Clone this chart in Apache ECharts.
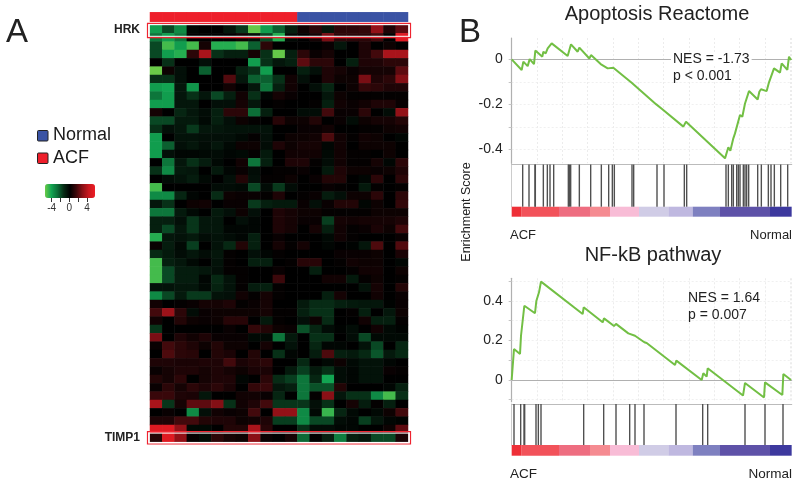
<!DOCTYPE html>
<html><head><meta charset="utf-8">
<script src="https://cdn.jsdelivr.net/npm/echarts@6/dist/echarts.min.js"></script>
<style>html,body{margin:0;padding:0;background:#fff}#c{width:800px;height:486px}</style>
</head><body><div id="c"></div>
<script>
const heatRows = [
[-4,-2,-3.5,-.2,0,0,-.7,-1.7,-5.5,-4,-2.5,-1,.3,1,-.7,1,1,1.2,3,.7,2],
[-3,-4,-3,0,0,0,0,.3,-.5,-2,-4.5,-.3,0,.5,2.5,1,1,1,1.5,0,5],
[-2,-5,-4,-5,.5,-4.5,-4.5,-5,-2.5,1,0,0,0,0,.2,-.7,0,.7,0,.3,0],
[-2,-4,-4.5,1,3.5,-1.5,-1,-1,.5,-1.5,-5.5,-1,1,.2,.5,0,0,.7,1.5,3.5,3.5],
[0,-1.5,0,0,-.5,0,0,0,-4,-1.5,-.7,-1,2,1,1,0,-1,.7,.7,1,1],
[-6,.3,-.5,0,-2.5,0,0,-1,-1.5,-4,0,0,-1,-.5,.7,.5,.2,.5,.5,.5,2],
[-1.5,-1.5,-.5,0,0,0,1.8,-.7,-2.5,-2.5,-1.5,.4,-.5,0,.7,.3,.3,2.5,.7,1,2.7],
[-4,-4.2,-.7,-3.8,0,0,.4,0,-.7,-3,-1,.4,0,-.5,-1.2,0,.3,1.2,1,.7,.7],
[-3,-4,-.7,-1.5,-.7,-2,-1,.4,-1.5,-.2,.5,.2,0,0,-.7,.3,.1,.1,.1,.1,.1],
[-4,-4,-.7,-.7,0,-.5,-.5,.5,-.7,0,.1,0,0,.1,-1,.4,.2,.4,.7,.7,.2],
[.5,0,-1.2,-.7,-.4,-1,1,1,-2.8,-1,0,0,-.4,-.4,1.5,.2,.2,1,0,-.4,3],
[-2,-2,-.8,-.8,-.3,-1,-.5,.3,.1,0,.9,.3,.3,.8,0,.2,-.4,.3,.5,.5,.8],
[-1.5,-.5,-.7,-1.7,-.7,-.7,-.6,-.6,-.6,-.6,0,0,.2,.2,.4,0,0,.1,.1,.3,.4],
[-4,0,-.6,-.6,-.5,-.5,-.5,-.3,.1,-.5,0,.3,.3,.4,1.7,.4,.1,.4,.3,0,-.2],
[-4,-2.5,-.5,-.7,-.4,-.7,-.3,.3,.3,-.4,.7,.3,.5,.5,-.2,.4,0,.3,.3,.3,0],
[-4,-.5,-.2,-.2,-.3,-.4,-.2,-.3,.1,-.8,0,.4,.4,.4,-.3,.4,.1,.1,0,.3,0],
[0,-3,-.7,-1.5,-.9,-.3,0,.4,-3,-1,0,.7,.7,.1,-.4,.4,.1,.1,.5,-.2,1],
[-1.5,-3.5,-.8,-.7,0,-.8,-.2,.2,-.4,0,.1,.1,.2,0,-.8,.7,.3,.3,.2,.3,.7],
[0,-.4,-.6,-.9,-.3,0,-.5,.8,-.5,.1,.1,.3,0,.2,.8,.8,0,-.2,1,0,1],
[-5,0,0,0,0,-.4,-.4,-.3,-2,-.4,-1.7,-.4,0,0,.2,.1,0,-.8,.1,0,.1],
[-3.5,-3.5,-1.2,-.2,0,-1.4,.3,.2,.2,.1,.7,0,.1,.2,-.9,-.5,.3,.3,1,0,1],
[-.7,-1.5,0,.3,.4,0,.2,.2,-1.7,-1,-.8,-.8,.2,-.5,.2,.8,.8,-.2,.3,0,1.2],
[-3,-3,-.8,-.3,0,-.8,-.5,.3,-.5,0,.7,.5,.3,.3,.1,.1,.1,.1,.3,.3,.3],
[-1,-1,-.5,-1.6,-.7,-.7,0,-.5,-.2,0,.7,.5,.2,.2,-1.8,.5,.4,.5,.5,.5,.7],
[-1,-2,-.7,-1.6,-.7,-.7,-.2,-.2,-.2,0,.7,.5,0,.5,-1,.4,.1,.2,.6,.3,1.5],
[-4.5,-.7,-.6,-.8,-.4,-.6,-.4,-.2,-1,0,.2,0,0,0,-.3,.4,.1,0,0,0,.2],
[.2,-.9,-.3,-1.8,0,-.6,-1.3,.8,-1,0,.5,.1,.5,0,-.2,0,-.1,-.7,1.7,0,1.8],
[-1.3,-.8,-.4,-.7,-.4,-.7,.1,0,-.5,-.2,.1,0,0,0,0,.2,.2,.2,.3,0,.6],
[-5,-1,-.7,-.3,0,-.6,.1,0,-1,-1,0,.1,.9,.9,0,.1,.4,.3,.3,0,-.2],
[-5,-2,-.9,-.9,-.7,-.5,.1,.1,0,0,.2,0,0,-1,0,0,.1,.4,.4,0,.3],
[-5,-2,-.9,-.9,-.2,-1.3,-.6,.1,0,0,1.4,0,0,0,.4,.4,-.8,.1,.3,0,.1],
[-.6,-.6,-.7,-.7,-.3,-1.1,-.6,.1,-.9,-1,.1,0,0,0,0,0,0,-.6,.5,0,.8],
[-3.5,-2,-.8,-1.7,-1.7,-.6,-.5,.4,.1,.5,.1,0,0,0,-1,.5,0,0,.4,0,.2],
[.4,0,.1,.2,.5,.5,.7,.1,.2,.5,0,0,-.8,-1.4,-1.4,-1,-.8,-.7,-.7,-.1,.2],
[1.5,3.2,1,-.4,.2,.3,.3,.3,.3,.5,.1,.1,-1,-1.5,-1.5,0,.1,-1,0,-.7,.3],
[.4,0,.8,.3,.2,.3,.9,.9,0,-.8,.1,0,-.5,.3,-1.4,0,0,.4,-1,-1,.1],
[-1.6,0,0,0,0,0,.2,0,1.2,.8,.3,.2,-2.2,-1.2,-.4,-.1,-.4,0,.4,-.3,-.1],
[2.5,0,.7,.4,.7,.2,.2,.2,-.3,-.3,-3,-.8,0,-1.5,-1.5,0,-.4,-2,-.3,-.3,-.3],
[.2,1.5,1,.7,.3,.8,.3,.3,0,.5,0,-.6,0,-1.2,-.2,-.2,0,-.6,-2,0,-1.2],
[0,1.7,1,.9,0,.8,.6,0,.8,0,-1.5,-.2,0,-.9,1.7,-1,-.8,-1.3,-2.3,-.8,-1.3],
[.7,.7,.6,.6,.7,.7,1.5,.6,.8,1,0,0,-1.3,0,-.3,.3,-.3,-.6,-.6,-.2,0],
[.2,.5,.7,.7,.5,.7,.5,.3,.6,.6,0,-.8,-1.8,-.8,-1.5,-.4,-.2,-.6,-.6,.2,.1],
[.8,.5,1,0,.5,.7,.7,-.2,0,1,-1.4,-1.8,-3,-1.2,-4.2,-.4,-.2,-.6,-.6,0,0],
[.2,1,.5,1,.7,1,.6,0,1.2,1.3,-.7,-1,-3,-2.2,-2.2,.8,0,0,0,-.2,-1],
[1.3,1.3,.7,.6,-.7,0,0,.4,.4,.2,-1.2,0,-3,.1,2.8,-.7,-1.5,-1.5,-3.5,-5,-1.5],
[3.5,-1.6,.5,2,2,2.7,-1.5,.4,.7,1.5,-1.6,-1.6,-1.6,-.5,-1.5,0,.5,-.9,.1,-1,0],
[0,.2,0,-3.5,-.5,.4,.2,.3,1.5,0,3,3,-3.5,-.3,-4.8,-1.2,-.3,0,-.3,.3,1.5],
[.7,.7,1.5,1.5,.8,.7,.7,.3,.4,.7,-1.8,-1.8,-3.5,-2,-2,-.4,-.2,-1.8,-.7,-.2,-.1],
[5,5,3,-.3,-.3,0,.8,.8,3.5,.9,0,0,-1.5,-.4,-.4,-.2,-.2,0,0,.3,2],
[.8,5,3,.1,-.4,1,.5,.3,2.8,.2,0,.5,-2.7,0,-1,-3.2,-1,-.7,-2,-2,.6]
];
const sampleGroups = ['ACF','ACF','ACF','ACF','ACF','ACF','ACF','ACF','ACF','ACF','ACF','ACF','Normal','Normal','Normal','Normal','Normal','Normal','Normal','Normal','Normal'];
const groupColors = {ACF:'#ee1f2b', Normal:'#3a53a4'};

const apoptosisRank = [0,30,35,48,54,67,71,92,95,102,108,113,120,126,168,178,198,203,233,238,267,270,288,305,310,360,365,433,436,452,458,515,523,640,650,656,665,670,676,685,692,700,712,738,743,748,765,772,778,787,805,810,827,832,838];
const apoptosisES = [0,-.047,-.010,-.030,.001,-.021,.039,.012,.034,.027,.049,.041,.071,.074,.015,.067,.034,.052,.004,.019,-.021,-.015,-.040,-.037,-.043,-.104,-.104,-.199,-.196,-.222,-.218,-.299,-.277,-.440,-.391,-.406,-.351,-.329,-.336,-.247,-.255,-.196,-.141,-.178,-.144,-.133,-.141,-.102,-.107,-.040,-.059,-.018,-.047,.012,-.003];
const apoptosisHits = [33,52,70,71,95,107,115,126,170,173,177,203,237,269,291,302,308,361,366,436,457,518,525,643,650,660,665,675,680,685,695,700,705,711,738,749,770,778,788,807,828];

const nfkbRank = [0,2,7,25,28,33,38,70,74,79,82,85,88,213,216,273,277,307,313,350,370,398,405,490,494,570,575,585,588,694,700,757,760,812,815,838];
const nfkbES = [0,0,.157,.132,.224,.224,.376,.338,.400,.397,.444,.444,.498,.334,.368,.292,.312,.273,.284,.236,.224,.191,.187,.076,.098,0,.034,.017,.059,-.079,-.015,-.089,-.012,-.076,.030,0];
const nfkbHits = [7,27,37,39,73,80,88,216,276,313,354,370,397,493,573,588,700,760,814];

const bandEdges = [0,30,142,235,295,382,470,543,625,775,840];
const bandColors = ['#ee2f37','#f2525a','#ee6d80','#f58b91','#f8bcd6','#d0cce6','#bfb8e0','#7e80c0','#5e52a8','#3d399e'];

const heatStops = ['#6acb48','#12a552','#0c6e37','#072b15','#000000','#3c080b','#8a1016','#c8181f','#ee1c24'];
const colorbarTicks = [-4,-2,0,2,4];
const colorbarLabels = [-4,0,4];

const FONT = '"Liberation Sans", Arial, sans-serif';
const heatData = [];
heatRows.forEach((r,i)=>r.forEach((v,j)=>heatData.push([j,i,v])));
const cols = sampleGroups.map((_,i)=>i);
const rows = heatRows.map((_,i)=>i);
const zip = (a,b)=>a.map((x,i)=>[x,b[i]]);

const PX = 511.67, PW = 280, XMAX = 840;
const plotX = (gi)=>({gridIndex:gi,type:'value',min:0,max:XMAX,interval:76,
  axisLabel:{show:false},axisTick:{show:false},
  axisLine:{show:true,onZero:true,lineStyle:{color:'#b0b0b0',width:1.2}},
  splitLine:{show:true,lineStyle:{color:'#ececec',type:[2,2],width:1}}});
const plotY = (gi,min,max,ticks,labels)=>({gridIndex:gi,type:'value',min,max,
  axisLine:{show:true,lineStyle:{color:'#b0b0b0',width:1.2}},
  axisTick:{show:true,length:3,customValues:ticks,lineStyle:{color:'#c4c4c4'}},
  axisLabel:{customValues:labels,fontFamily:FONT,fontSize:14,color:'#222',margin:9},
  splitLine:{show:true,lineStyle:{color:'#f0f0f0',type:[2,2],width:1}}});
const hitX = (gi)=>({gridIndex:gi,type:'value',min:0,max:XMAX,position:'top',
  axisLabel:{show:false},axisTick:{show:false},splitLine:{show:false},
  axisLine:{show:true,onZero:false,lineStyle:{color:'#bbbbbb',width:1.2}}});
const hitY = (gi)=>({gridIndex:gi,type:'value',min:0,max:1,
  axisLabel:{show:false},axisTick:{show:false},splitLine:{show:false},
  axisLine:{show:true,lineStyle:{color:'#cccccc'}}});
const bandX = (gi)=>({gridIndex:gi,type:'value',min:0,max:XMAX,show:false});
const bandY = (gi)=>({gridIndex:gi,type:'value',min:0,max:1,show:false});
const lineS = (xi,d)=>({type:'line',xAxisIndex:xi,yAxisIndex:xi,data:d,showSymbol:false,symbol:'none',
  lineStyle:{color:'#72bf44',width:2},silent:true,z:5});
const hitS = (xi,h)=>({type:'bar',xAxisIndex:xi,yAxisIndex:xi,data:h.map(x=>[x,1]),barWidth:1.4,
  itemStyle:{color:'#505050'},silent:true});
const bandS = (xi)=>({type:'custom',xAxisIndex:xi,yAxisIndex:xi,silent:true,
  data:bandColors.map((_,i)=>[bandEdges[i],bandEdges[i+1],i]),
  encode:{x:[0,1]},
  renderItem:(p,api)=>{
    const a=api.coord([api.value(0),1]), b=api.coord([api.value(1),0]);
    return {type:'rect',shape:{x:a[0],y:a[1],width:b[0]-a[0],height:b[1]-a[1]},
      style:{fill:bandColors[api.value(2)]}};
  }});

const txt=(x,y,text,o={})=>({type:'text',x,y,silent:true,z:20,style:Object.assign({text,
  font:`${o.weight||'normal'} ${o.size||14}px ${FONT}`,fill:o.fill||'#222',
  align:o.align||'left',verticalAlign:'middle'},o.bg?{backgroundColor:'#fff',padding:[0,2]}:{}),
  rotation:o.rotation||0});
const box=(y,h)=>[
  {type:'rect',z:15,silent:true,shape:{x:147.5,y,width:263,height:h},style:{fill:'none',stroke:'#ee2430',lineWidth:1.2}},
  {type:'rect',z:15,silent:true,shape:{x:149,y:y+1.4,width:260,height:h-2.8},style:{fill:'none',stroke:'#ffffff',lineWidth:1}}
];
const swatch=(y,c)=>({type:'rect',silent:true,shape:{x:37.5,y,width:10.5,height:10.5,r:1},style:{fill:c,stroke:'#222',lineWidth:1}});

const option = {
  animation:false, backgroundColor:'#fff',
  grid:[
    {left:150,top:25,width:258,height:416.67},
    {left:150,top:12.3,width:258,height:9.4},
    {left:45,top:184,width:50,height:14},
    {left:PX,top:38,width:PW,height:125.3},
    {left:PX,top:164.5,width:PW,height:42.2},
    {left:PX,top:206.7,width:PW,height:10},
    {left:PX,top:278.3,width:PW,height:123.4},
    {left:PX,top:404,width:PW,height:41},
    {left:PX,top:445,width:PW,height:10.7}
  ],
  xAxis:[
    {gridIndex:0,type:'category',data:cols,show:false},
    {gridIndex:1,type:'category',data:cols,show:false},
    {gridIndex:2,type:'value',min:-5.5,max:5.8,position:'bottom',
      axisLine:{show:false},splitLine:{show:false},
      axisTick:{show:true,length:4,customValues:colorbarTicks,lineStyle:{color:'#333'}},
      axisLabel:{customValues:colorbarLabels,fontFamily:FONT,fontSize:10,color:'#333',margin:5}},
    plotX(3),hitX(4),bandX(5),plotX(6),hitX(7),bandX(8)
  ],
  yAxis:[
    {gridIndex:0,type:'category',data:rows,inverse:true,show:false},
    {gridIndex:1,type:'category',data:[0],show:false},
    {gridIndex:2,type:'value',show:false},
    plotY(3,-.462,.095,[-.4,-.3,-.2,-.1,0],[-.4,-.2,0]),hitY(4),bandY(5),
    plotY(6,-.11,.515,[-.1,0,.1,.2,.3,.4,.5],[0,.2,.4]),hitY(7),bandY(8)
  ],
  visualMap:[{
    type:'continuous',seriesIndex:0,dimension:2,min:-5.6,max:5.6,calculable:false,
    orient:'horizontal',left:45,top:184,itemWidth:14,itemHeight:50,padding:0,text:null,
    showLabel:false,inRange:{color:heatStops},textStyle:{fontSize:1,color:'#fff'}
  }],
  series:[
    {type:'heatmap',xAxisIndex:0,yAxisIndex:0,data:heatData,progressive:0,silent:true,
      itemStyle:{borderWidth:0},emphasis:{disabled:true}},
    {type:'heatmap',xAxisIndex:1,yAxisIndex:1,silent:true,progressive:0,
      data:sampleGroups.map((g,i)=>({value:[i,0,1],itemStyle:{color:groupColors[g]}}))},
    lineS(3,zip(apoptosisRank,apoptosisES)),hitS(4,apoptosisHits),bandS(5),
    lineS(6,zip(nfkbRank,nfkbES)),hitS(7,nfkbHits),bandS(8)
  ],
  graphic:[
    ...box(23.3,14.4),...box(431.7,12.3),
    txt(6,33,'A',{size:33}),txt(459,33,'B',{size:33}),
    txt(140,30,'HRK',{size:12,weight:'bold',align:'right'}),
    txt(140,438,'TIMP1',{size:12,weight:'bold',align:'right'}),
    swatch(130.5,'#3a53a4'),swatch(153,'#ee1f2b'),
    txt(53,135.5,'Normal',{size:18,fill:'#1a1a1a'}),
    txt(53,158,'ACF',{size:18,fill:'#1a1a1a'}),
    txt(657,14,'Apoptosis Reactome',{size:20,align:'center'}),
    txt(653,255,'NF-kB pathway',{size:20,align:'center'}),
    txt(671,59,'NES = -1.73',{size:14,bg:true}),
    txt(673,76,'p < 0.001',{size:14}),
    txt(688,298,'NES = 1.64',{size:14}),
    txt(688,315,'p = 0.007',{size:14}),
    txt(510,235,'ACF',{size:13}),
    txt(792,235,'Normal',{size:13,align:'right'}),
    txt(510,474,'ACF',{size:13.5}),
    txt(792,474,'Normal',{size:13.5,align:'right'}),
    {type:'text',silent:true,z:20,x:466.5,y:212,rotation:Math.PI/2,
      style:{text:'Enrichment Score',font:`12.5px ${FONT}`,fill:'#222',align:'center',verticalAlign:'middle'}}
  ]
};
echarts.init(document.getElementById('c')).setOption(option);
</script></body></html>
